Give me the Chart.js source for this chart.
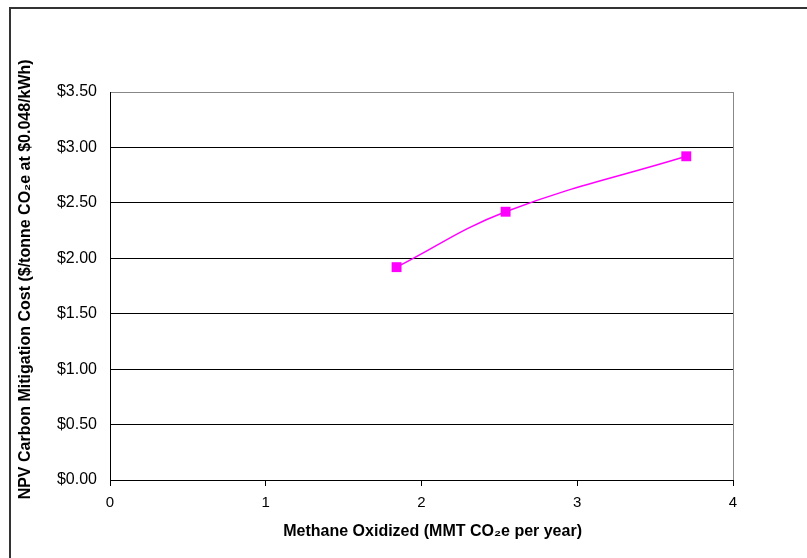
<!DOCTYPE html>
<html>
<head>
<meta charset="utf-8">
<title>NPV Carbon Mitigation Cost</title>
<script src="https://cdn.jsdelivr.net/npm/chart.js@4"></script>
<style>
  html, body { margin: 0; padding: 0; background: #fff; overflow: hidden; }
  #wrap { position: relative; width: 807px; height: 558px; }
  #frame { position: absolute; left: 9px; top: 7px; width: 900px; height: 700px; border: 2px solid #333; pointer-events: none; }
</style>
</head>
<body>
<div id="wrap">
  <canvas id="chart" width="807" height="558"></canvas>
  <div id="frame"></div>
</div>
<script>
// Data
const methaneOxidized = [1.84, 2.54, 3.70];   // MMT CO2e per year
const mitigationCost = [1.92, 2.42, 2.92];    // $/tonne CO2e
const xTicks = [0, 1, 2, 3, 4];
const yMax = 3.5;
const yStep = 0.5;

const points = methaneOxidized.map((x, i) => ({ x: x, y: mitigationCost[i] }));

const FONT = 'Liberation Sans, Arial';
// leading no-break spaces nudge the axis titles off-centre like in the original
const NB = '\u00A0';

const ctx = document.getElementById('chart');
new Chart(ctx, {
  type: 'scatter',
  data: {
    datasets: [{
      data: points,
      showLine: true,
      tension: 0.4,
      borderColor: '#FF00FF',
      borderWidth: 1.5,
      backgroundColor: '#FF00FF',
      pointStyle: 'rect',
      pointRadius: 7,
      pointHoverRadius: 7,
      pointBorderWidth: 0
    }]
  },
  options: {
    responsive: false,
    animation: false,
    layout: { padding: { left: 10, top: 92, right: 74, bottom: 0 } },
    plugins: { legend: { display: false }, tooltip: { enabled: false } },
    scales: {
      x: {
        type: 'linear',
        min: xTicks[0],
        max: xTicks[xTicks.length - 1],
        afterBuildTicks: s => { s.ticks = xTicks.map(v => ({ value: v })); },
        afterFit: s => { s.height = 78; },
        border: { color: '#000', width: 1 },
        grid: {
          color: c => c.tick && c.tick.value === 4 ? '#888' : 'rgba(0,0,0,0)',
          tickColor: '#000',
          tickLength: 6,
          lineWidth: 1
        },
        ticks: { color: '#000', padding: 8, maxRotation: 0, font: { family: FONT, size: 15 } },
        title: {
          display: true,
          text: NB.repeat(5) + 'Methane Oxidized (MMT CO\u2082e per year)',
          color: '#000',
          font: { family: FONT, size: 16, weight: 'bold' },
          padding: { top: 0, bottom: 17 }
        }
      },
      y: {
        min: 0,
        max: yMax,
        afterFit: s => { s.width = 100; },
        border: { color: '#000', width: 1 },
        grid: {
          color: c => c.tick && c.tick.value === yMax ? '#888' : '#000',
          drawTicks: false,
          lineWidth: 1
        },
        ticks: {
          stepSize: yStep,
          color: '#000',
          padding: 13,
          font: { family: FONT, size: 16 },
          callback: v => '$' + Number(v).toFixed(2)
        },
        title: {
          display: true,
          text: NB.repeat(3) + 'NPV Carbon Mitigation Cost ($/tonne CO\u2082e at $0.048/kWh)',
          color: '#000',
          font: { family: FONT, size: 16, weight: 'bold' },
          padding: { top: 6, bottom: 0 }
        }
      }
    }
  }
});
</script>
</body>
</html>
